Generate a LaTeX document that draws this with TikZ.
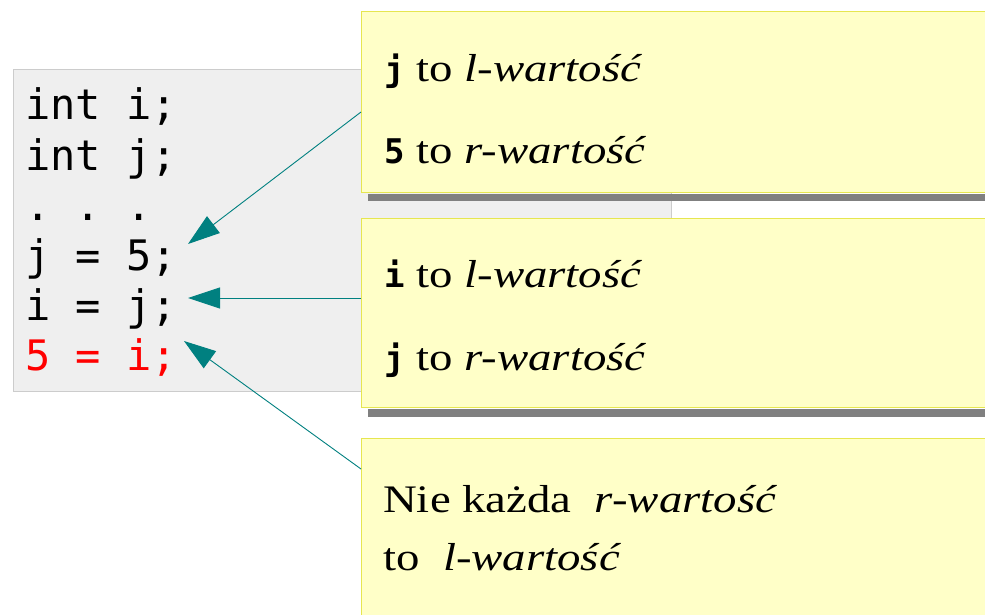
\documentclass[tikz,border=0pt]{standalone}
\usepackage{fontspec}
\setmainfont[FakeStretch=1.2]{Liberation Serif}
\setmonofont{DejaVu Sans Mono}
\newfontfamily\cdfont{DejaVu Sans Mono Bold}
\usetikzlibrary{arrows.meta,calc}
\definecolor{codebg}{HTML}{EFEFEF}
\definecolor{codeframe}{HTML}{CCCCCC}
\definecolor{notefill}{HTML}{FFFFC8}
\definecolor{noteframe}{HTML}{E6E650}
\definecolor{shadowgrey}{HTML}{808080}
\definecolor{arrowteal}{HTML}{008080}
\newcommand{\cd}[1]{{\cdfont\fontsize{34}{34}\selectfont #1}}
\begin{document}
\begin{tikzpicture}[x=1pt,y=-1pt,
  codebox/.style={draw=codeframe, fill=codebg, line width=1pt, anchor=north west, inner sep=0pt, minimum width=658pt, minimum height=322pt},
  note/.style={draw=noteframe, fill=notefill, line width=1pt, anchor=north west, inner sep=0pt, minimum width=650pt},
  shadowbar/.style={fill=shadowgrey},
  codeline/.style={anchor=base west, inner sep=0pt, font=\fontsize{42}{50}\selectfont\ttfamily},
  notetext/.style={anchor=base west, inner sep=0pt, font=\fontsize{39}{42}\selectfont},
  pointer/.style={draw=arrowteal, line width=0.9pt, -{Triangle[length=32pt,width=21pt]}}]
\clip (0,0) rectangle (985,615);
\fill[white] (0,0) rectangle (985,615);
% code box
\node[codebox] (code) at (13,69) {};
\node[codeline] (l1) at (25,120) {int i;};
\node[codeline] (l2) at (25,170) {int j;};
\node[codeline] (l3) at (25,220) {. . .};
\node[codeline] (l4) at (25,270) {j = 5;};
\node[codeline] (l5) at (25,320) {i = j;};
\node[codeline, text=red] (l6) at (25,370) {5 = i;};
% notes
\node[note, minimum height=181pt] (b1) at (361,11) {};
\fill[shadowbar] ($(b1.south west)+(7,0.5)$) rectangle ($(b1.south east)+(7,8)$);
\node[note, minimum height=189pt] (b2) at (361,218) {};
\fill[shadowbar] ($(b2.south west)+(7,0.5)$) rectangle ($(b2.south east)+(7,9)$);
\node[note, minimum height=200pt] (b3) at (361,438) {};
% note texts
\node[notetext] (t1a) at (384,82) {\cd{j} to \textit{l-wartość}};
\node[notetext] (t1b) at (384,164) {\cd{5} to \textit{r-wartość}};
\node[notetext] (t2a) at (384,287) {\cd{i} to \textit{l-wartość}};
\node[notetext] (t2b) at (384,370) {\cd{j} to \textit{r-wartość}};
\node[notetext] (t3a) at (383,512) {Nie każda\ \ \textit{r-wartość}};
\node[notetext] (t3b) at (383,570) {to\ \ \textit{l-wartość}};
% arrows
\coordinate (tip1) at (188,244);
\coordinate (tip2) at (188,298);
\coordinate (tip3) at (184,341);
\draw[pointer] ($(b1.north west)+(0,101)$) -- (tip1);
\draw[pointer] ($(b2.north west)+(0,80)$) -- (tip2);
\draw[pointer] ($(b3.north west)+(0,31)$) -- (tip3);
\end{tikzpicture}
\end{document}
